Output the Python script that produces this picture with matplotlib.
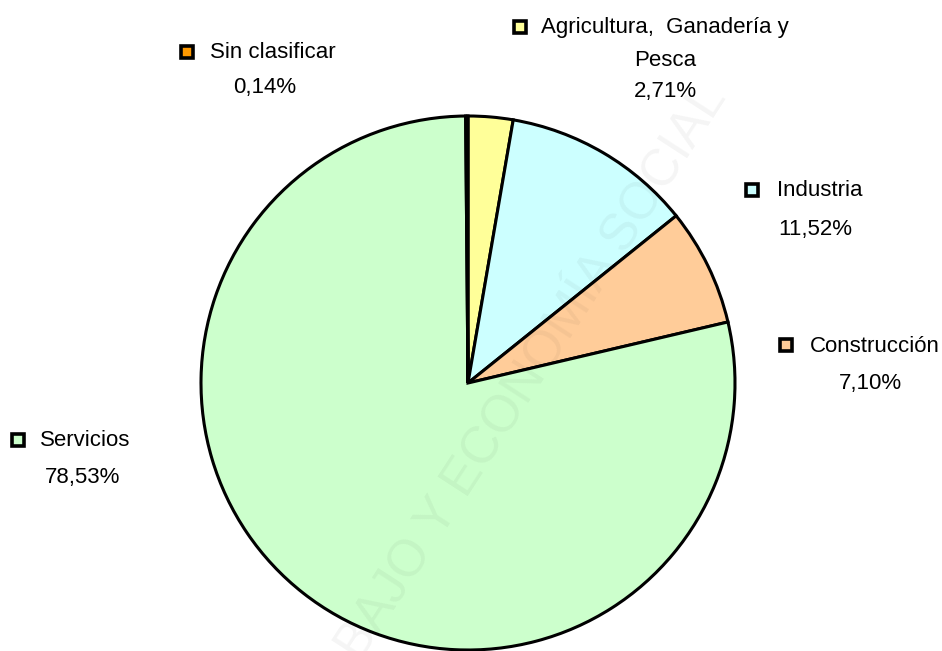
import matplotlib.pyplot as plt
from matplotlib.patches import Rectangle

plt.rcParams['font.family'] = ['Liberation Sans', 'DejaVu Sans']

labels = ['Agricultura,  Ganadería y\nPesca', 'Industria', 'Construcción', 'Servicios', 'Sin clasificar']
values = [2.71, 11.52, 7.10, 78.53, 0.14]
colors = ['#FFFF99', '#CCFFFF', '#FFCC99', '#CCFFCC', '#FF9900']

W, H = 942, 651
fig = plt.figure(figsize=(W / 100, H / 100), dpi=100)
ax = fig.add_axes([0, 0, 1, 1])

ax.pie(values, colors=colors, startangle=90, counterclock=False,
       center=(468, H - 383), radius=267, frame=True,
       wedgeprops={'edgecolor': 'black', 'linewidth': 2.2})
ax.set_xlim(0, W)
ax.set_ylim(0, H)
ax.set_aspect('equal')
ax.axis('off')

# watermark
ax.text(716, H - 90, 'TRABAJO Y ECONOMÍA SOCIAL', rotation=57,
        rotation_mode='anchor', ha='right', va='center', fontsize=37,
        color='#000000', alpha=0.045, zorder=5)

def pct(v):
    return ('%.2f%%' % v).replace('.', ',')

# label layout: (square x, y, first-line x, value centers)
layout = {
    'Sin clasificar': (187, 52, 210, [(265, 87)]),
    'Agricultura,  Ganadería y\nPesca': (520, 27, 541, [(665, 61), (665, 92)]),
    'Industria': (752, 190, 777, [(815, 229)]),
    'Construcción': (786, 345, 810, [(870, 383)]),
    'Servicios': (18, 440, 40, [(83, 478)]),
}

for lab, v, c in zip(labels, values, colors):
    sx, sy, tx, rest = layout[lab]
    lines = lab.split('\n')
    ax.add_patch(Rectangle((sx - 6, H - sy - 6), 12, 12, facecolor=c,
                           edgecolor='black', linewidth=2.6, zorder=10))
    ax.text(tx, H - sy - 1, lines[0], ha='left', va='center', fontsize=16)
    extra = lines[1:] + [pct(v)]
    for (x, y), t in zip(rest, extra):
        ax.text(x, H - y, t, ha='center', va='center', fontsize=16)

fig.savefig('out.png', dpi=100)
